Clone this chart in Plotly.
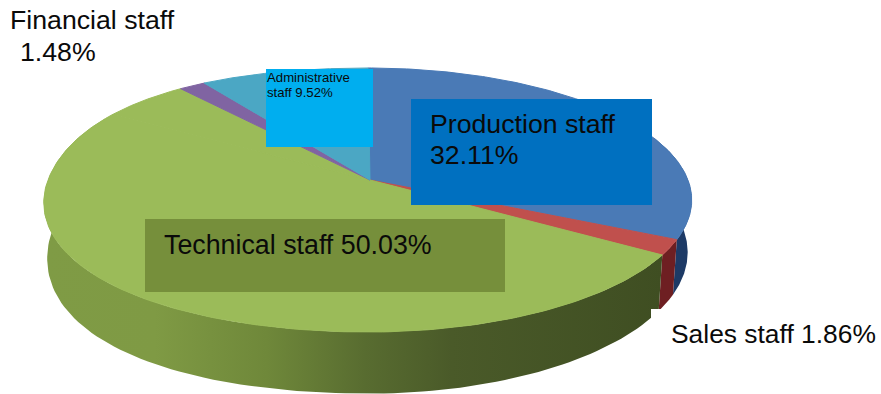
import numpy as np
import plotly.graph_objects as go

# Workforce composition, clockwise from twelve o'clock
categories = ["Production staff", "Sales staff", "Technical staff", "Not itemised",
              "Financial staff", "Administrative staff"]
shares = [32.11, 1.86, 50.03, 5.00, 1.48, 9.52]
top_colors = ["#4A7AB6", "#C0504D", "#9BBB59", "#9BBB59", "#8064A2", "#4BA7C4"]

# Tilted-disc projection, expressed in the pixel-sized axes below
CX, APEX_Y = 368, 180
A, B, K = 320, 129, 0.1515
BASE_CX, BASE_APEX_Y = 368, 231
BASE_A, BASE_B = 316, 138


def bulge(theta, lower_left):
    # The left half of the disc is slightly fuller than a true ellipse
    t = np.mod(theta, 2 * np.pi)
    c = np.where(t > 1.5 * np.pi, 0.03, np.where(t > np.pi, lower_left, 0.0))
    return 1 + c * np.sin(2 * t) ** 2


def project(theta, cx, apex_y, a, b, lower_left):
    r = bulge(theta, lower_left)
    u, v = r * np.sin(theta), r * np.cos(theta)
    d = 1 + K * v
    return cx + a * u / d, apex_y - b * v / d


def top_rim(theta):
    return project(theta, CX, APEX_Y, A, B, 0.015)


def base_rim(theta):
    return project(theta, BASE_CX, BASE_APEX_Y, BASE_A, BASE_B, 0.03)


def wall(theta_from, theta_to):
    t = np.linspace(theta_from, theta_to, 120)
    x1, y1 = top_rim(t)
    x2, y2 = base_rim(t[::-1])
    return np.r_[x1, x2, x1[0]], np.r_[y1, y2, y1[0]]


edges = np.radians(np.r_[0, np.cumsum(shares)] * 3.6)

fig = go.Figure()

# Outer walls: blue, red, then the long green run with its light falloff
bx, by = wall(np.radians(70), edges[1])
fig.add_trace(go.Scatter(x=bx, y=by, mode="lines", fill="toself", line=dict(width=0),
                         fillcolor="#1D3A66", hoverinfo="skip"))
rx, ry = wall(edges[1], edges[2])
fig.add_trace(go.Scatter(x=rx, y=ry, mode="lines", fill="toself", line=dict(width=0),
                         fillcolor="#6E1F22", hoverinfo="skip"))
gx, gy = wall(edges[2], np.radians(300))
fig.add_trace(go.Scatter(
    x=gx, y=gy, mode="lines", fill="toself", line=dict(width=0), hoverinfo="skip",
    fillgradient=dict(type="horizontal", colorscale=[
        [0.00, "#7F9B45"], [0.18, "#7F9A44"], [0.36, "#6F883A"], [0.52, "#586C30"],
        [0.66, "#4A5A29"], [1.00, "#3F4E22"]]),
))

# Top face
for i, color in enumerate(top_colors):
    t = np.linspace(edges[i], edges[i + 1], 160)
    x, y = top_rim(t)
    fig.add_trace(go.Scatter(
        x=np.r_[CX + 2, x, CX + 2], y=np.r_[APEX_Y, y, APEX_Y],
        mode="lines", fill="toself", line=dict(width=1, color=color), fillcolor=color,
        name=categories[i], hoverinfo="name",
    ))

# Label panels
panels = [
    (266, 69, 373, 147, "#00AEEF"),
    (411, 99, 652, 205, "#0070C0"),
    (145, 219, 505, 292, "#768F3B"),
    (651, 309, 881, 394, "#FFFFFF"),
]
shapes = [dict(type="rect", xref="x", yref="y", x0=a, y0=b, x1=c, y1=d,
               fillcolor=col, line=dict(width=0), layer="above")
          for a, b, c, d, col in panels]


def label(x, y, text, size):
    return dict(x=x, y=y, xref="x", yref="y", text=text, showarrow=False,
                xanchor="left", yanchor="middle", align="left",
                font=dict(family="Liberation Sans", size=size, color="#0A0A0A"))


annotations = [
    label(8, 20, categories[4], 26.7),
    label(18, 52, f"{shares[4]:.2f}%", 26.7),
    label(265, 77, "Administrative", 13.2),
    label(265, 92, f"staff {shares[5]:.2f}%", 13.2),
    label(428, 124, categories[0], 26.7),
    label(428, 155, f"{shares[0]:.2f}%", 26.7),
    label(162, 245, f"{categories[2]} {shares[2]:.2f}%", 26.8),
    label(669, 334, f"{categories[1]} {shares[1]:.2f}%", 26.4),
]

fig.update_layout(
    width=881, height=394, autosize=False, showlegend=False,
    margin=dict(l=0, r=0, t=0, b=0),
    paper_bgcolor="white", plot_bgcolor="white",
    xaxis=dict(range=[0, 881], visible=False, fixedrange=True),
    yaxis=dict(range=[394, 0], visible=False, fixedrange=True),
    shapes=shapes, annotations=annotations,
)

fig.write_html("out.html", config=dict(displayModeBar=False))
